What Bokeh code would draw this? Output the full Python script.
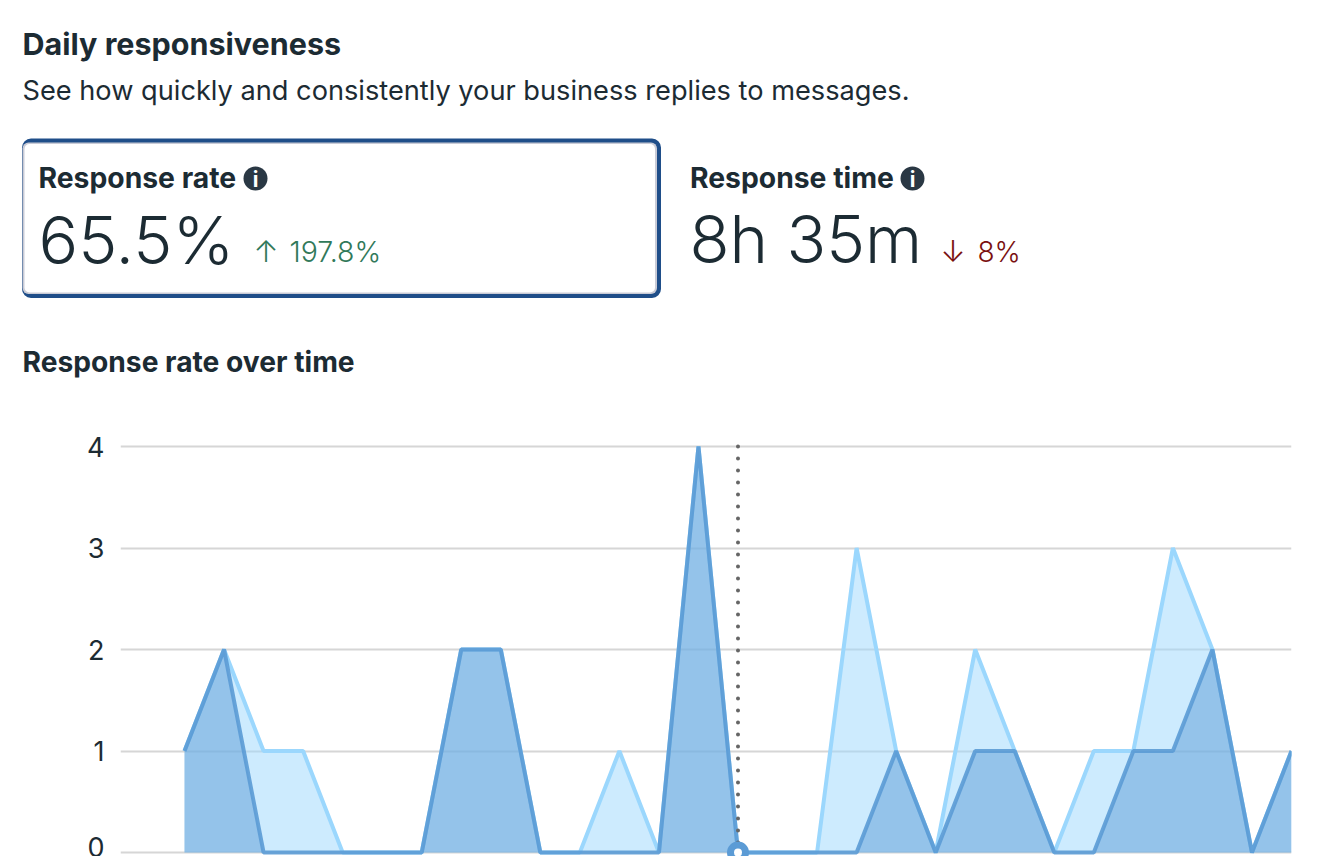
from bokeh.embed import file_html
from bokeh.resources import INLINE
from bokeh.plotting import figure
from bokeh.layouts import column
from bokeh.models import Range1d, BoxAnnotation, FixedTicker, ColumnDataSource
from bokeh.core.properties import value

day_index = list(range(29))
series_light = [1, 2, 1, 1, 0, 0, 0, 2, 2, 0, 0, 1, 0, 4, 0, 0, 0, 3, 1, 0, 2, 1, 0, 1, 1, 3, 2, 0, 1]
series_dark = [1, 2, 0, 0, 0, 0, 0, 2, 2, 0, 0, 0, 0, 4, 0, 0, 0, 0, 1, 0, 1, 1, 0, 0, 1, 1, 2, 0, 1]
y_ticks = [0, 1, 2, 3, 4]
hover_day = 14

title_text = "Daily responsiveness"
subtitle_text = "See how quickly and consistently your business replies to messages."
metric_names = ["Response rate", "Response time"]
metric_values = ["65.5%", "8h 35m"]
metric_deltas = ["197.8%", "8%"]
chart_title = "Response rate over time"

INK = "#1C2B33"
GREEN = "#31795A"
RED = "#7A1010"
LIGHT = "#9BD7FD"
DARK = "#5B9BD5"
FONT = value("Inter")
FONT_LIGHT = value("Inter Light")

head = figure(width=1332, height=428, output_backend="svg", toolbar_location=None,
              x_range=Range1d(0, 1332), y_range=Range1d(428, 0),
              min_border=0, outline_line_color=None, frame_align=False)
head.axis.visible = False
head.grid.visible = False


def txt(x, y, s, size, color=INK, style="normal", font=FONT, align="left"):
    head.text([x], [y], text=[s], text_font=font, text_font_size=f"{size}px", text_color=color,
              text_font_style=style, text_baseline="alphabetic", text_align=align)


head.add_layout(BoxAnnotation(left=21.5, right=660.5, top=138, bottom=297.5, fill_color="#1F4E89", fill_alpha=1,
                              line_color=None, border_radius=9, level="underlay"))
head.add_layout(BoxAnnotation(left=22, right=656.5, top=142, bottom=293.5, fill_color="#C9CBD6", fill_alpha=1,
                              line_color=None, border_radius=6, level="underlay"))
head.add_layout(BoxAnnotation(left=24, right=654.5, top=143.5, bottom=292, fill_color="white", fill_alpha=1,
                              line_color=None, border_radius=5, level="underlay"))

txt(22, 43, title_text, 30.5, style="bold")
txt(22, 90, subtitle_text, 27.2)
txt(38, 177, metric_names[0], 28.3, style="bold")
txt(689.5, 177, metric_names[1], 28.3, style="bold")
txt(38, 239, metric_values[0], 66, font=FONT_LIGHT)
txt(689, 239, metric_values[1], 65.5, font=FONT_LIGHT)
txt(253, 250, "\u2191", 30, color=GREEN, font=FONT_LIGHT)
txt(289, 251, metric_deltas[0], 28.5, color=GREEN, font=FONT_LIGHT)
txt(940, 250, "\u2193", 30, color=RED, font=FONT_LIGHT)
txt(977, 251, metric_deltas[1], 28, color=RED, font=FONT_LIGHT)
txt(22, 361, chart_title, 28.2, style="bold")

for cx in (255, 912):
    head.scatter([cx], [178], size=24, fill_color="#2A3844", line_color=None)
    txt(cx, 178.5, "i", 21, color="white", style="bold", align="center")

PX_PER_UNIT = 101.5
PX_PER_DAY = 39.536
chart = figure(width=1332, height=428, output_backend="svg", toolbar_location=None,
               x_range=Range1d(-(184 - 120) / PX_PER_DAY, 28),
               y_range=Range1d(-4 / PX_PER_UNIT, 416 / PX_PER_UNIT),
               min_border_left=120, min_border_right=41, min_border_top=8, min_border_bottom=0,
               outline_line_color=None, x_axis_location=None, frame_align=False)
chart.xgrid.visible = False
chart.ygrid.ticker = FixedTicker(ticks=y_ticks)
chart.ygrid.grid_line_color = "#D6D6D6"
chart.ygrid.grid_line_width = 2
chart.yaxis.ticker = FixedTicker(ticks=y_ticks)
chart.yaxis.axis_line_color = None
chart.yaxis.major_tick_line_color = None
chart.yaxis.minor_tick_line_color = None
chart.yaxis.major_label_standoff = 10
chart.yaxis.major_label_text_font = "Inter"
chart.yaxis.major_label_text_font_size = "27px"
chart.yaxis.major_label_text_color = INK

src = ColumnDataSource(dict(day=day_index, light=series_light, dark=series_dark,
                            base=[0] * len(day_index)))
chart.varea("day", "base", "light", source=src, fill_color=LIGHT, fill_alpha=0.5)
chart.line("day", "light", source=src, line_color=LIGHT, line_width=4, line_join="bevel")
chart.varea("day", "base", "dark", source=src, fill_color=DARK, fill_alpha=0.5)
chart.line("day", "dark", source=src, line_color=DARK, line_width=4, line_alpha=0.9, line_join="bevel")

chart.line([hover_day, hover_day], [max(y_ticks), 0], line_color="#666666", line_width=4,
           line_dash="0 12", line_cap="round")
chart.scatter([hover_day], [series_dark[hover_day]], size=15, fill_color="white",
              line_color=DARK, line_width=7)

page = column(head, chart, spacing=0)
open("out.html", "w").write(file_html(page, INLINE))
